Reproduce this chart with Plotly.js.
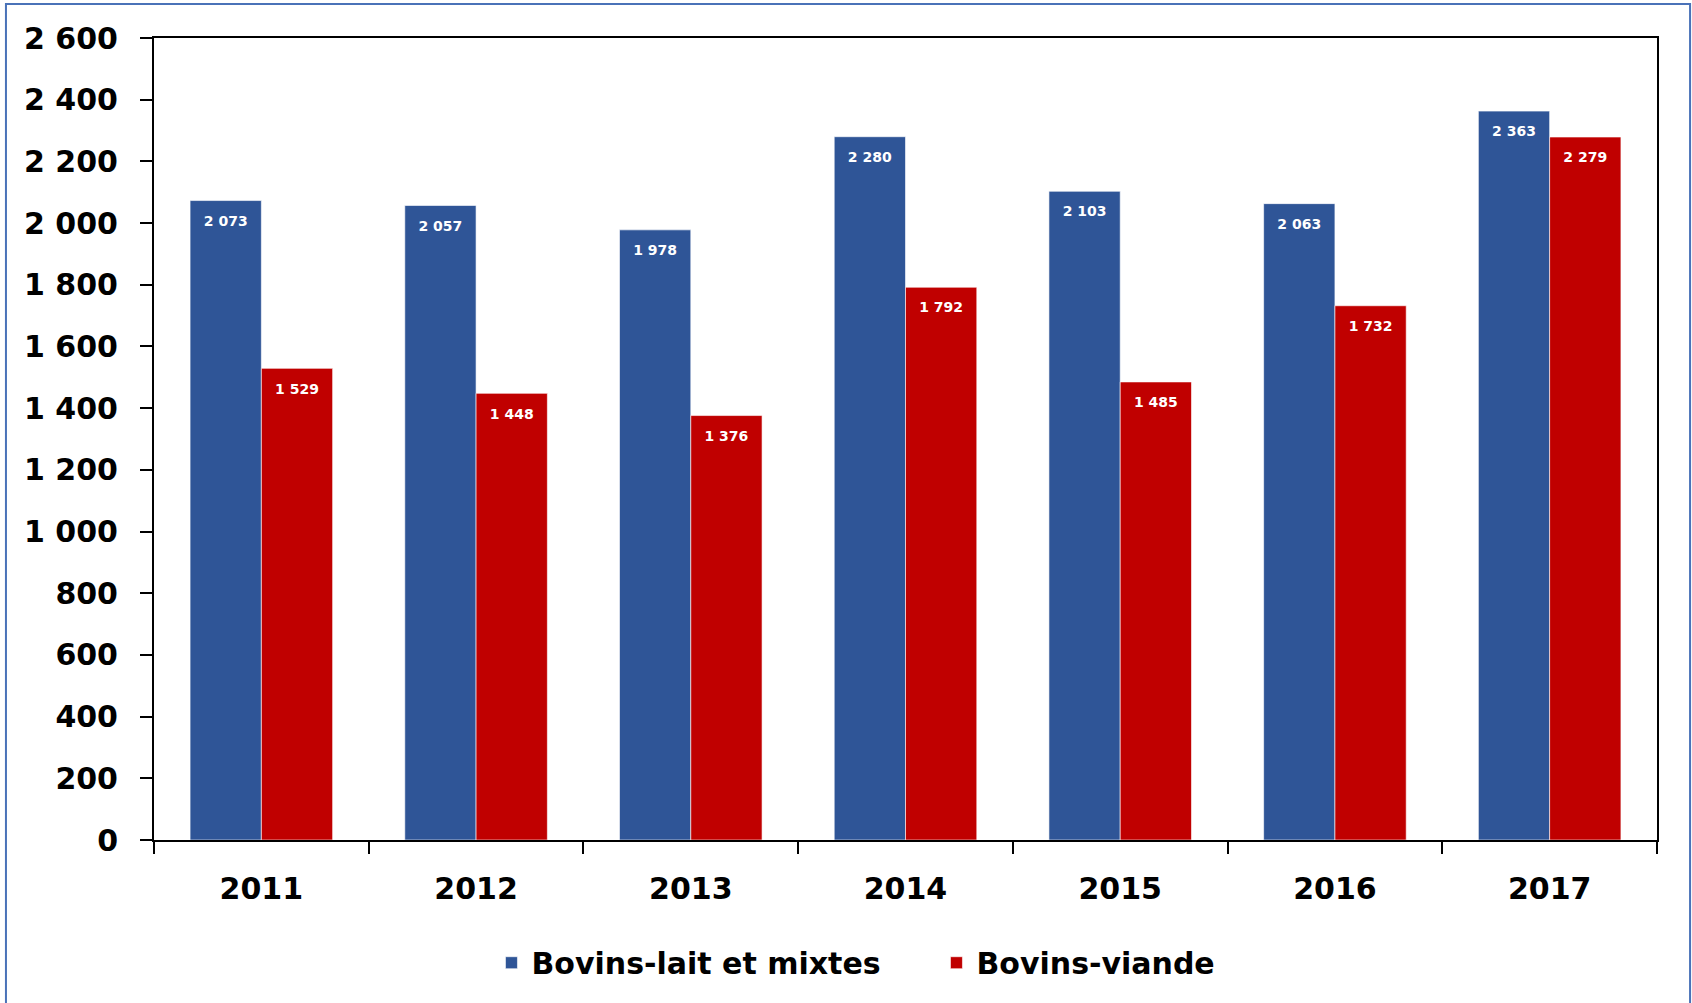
<!DOCTYPE html>
<html>
<head>
<meta charset="utf-8">
<script src="https://cdn.plot.ly/plotly-3.0.1.min.js"></script>
<style>
  html, body { margin: 0; padding: 0; background: #ffffff; }
  #chart { width: 1692px; height: 1003px; }
</style>
</head>
<body>
<div id="chart"></div>
<script>
const years = ["2011", "2012", "2013", "2014", "2015", "2016", "2017"];
const laitMixtes = [2073, 2057, 1978, 2280, 2103, 2063, 2363];
const viande = [1529, 1448, 1376, 1792, 1485, 1732, 2279];
const seriesNames = ["Bovins-lait et mixtes", "Bovins-viande"];
const yTicks = [0, 200, 400, 600, 800, 1000, 1200, 1400, 1600, 1800, 2000, 2200, 2400, 2600];

const FONT = "DejaVu Sans, Verdana, sans-serif";

function barTrace(name, values, color) {
  return {
    type: "bar",
    name: name,
    x: years,
    y: values,
    marker: { color: color, line: { color: "rgba(255,255,255,0.6)", width: 1 } },
    texttemplate: "<span style=\"font-size:4px\">\u00a0</span><br>%{y:,d}",
    textposition: "inside",
    insidetextanchor: "end",
    constraintext: "none",
    textangle: 0,
    textfont: { family: FONT, size: 14, color: "#ffffff", weight: "bold" },
    hoverinfo: "x+y+name",
    cliponaxis: false
  };
}

const data = [
  barTrace(seriesNames[0], laitMixtes, "#2F5597"),
  barTrace(seriesNames[1], viande, "#C00000")
];

const layout = {
  width: 1692,
  height: 1003,
  margin: { l: 154, r: 35, t: 38, b: 163, pad: 0 },
  paper_bgcolor: "#ffffff",
  plot_bgcolor: "#ffffff",
  separators: ", ",
  barmode: "group",
  bargap: 0.336,
  bargroupgap: 0,
  font: { family: FONT, color: "#000000" },
  showlegend: true,
  legend: {
    orientation: "h",
    x: 0.5206,
    xanchor: "center",
    y: -0.153,
    yanchor: "middle",
    font: { family: FONT, size: 30, color: "#000000", weight: "bold" },
    itemwidth: 30,
    entrywidth: 400,
    entrywidthmode: "pixels",
    bgcolor: "rgba(0,0,0,0)"
  },
  xaxis: {
    type: "category",
    showline: true,
    linecolor: "#000000",
    linewidth: 2,
    mirror: true,
    ticks: "outside",
    tickson: "boundaries",
    ticklen: 12,
    tickwidth: 2,
    tickcolor: "#000000",
    ticklabelstandoff: 21,
    tickfont: { family: FONT, size: 30, color: "#000000", weight: "bold" },
    showgrid: false,
    zeroline: false,
    fixedrange: true
  },
  yaxis: {
    range: [0, 2600],
    tickmode: "array",
    tickvals: yTicks,
    tickformat: ",d",
    showline: true,
    linecolor: "#000000",
    linewidth: 2,
    mirror: true,
    ticks: "outside",
    ticklen: 12,
    tickwidth: 2,
    tickcolor: "#000000",
    ticklabelstandoff: 16,
    tickfont: { family: FONT, size: 30, color: "#000000", weight: "bold" },
    showgrid: false,
    zeroline: false,
    fixedrange: true
  },
  shapes: [
    {
      type: "rect",
      xref: "paper", yref: "paper",
      x0: -0.0985, x1: 1.022,
      y0: -0.25, y1: 1.0424,
      line: { color: "#4A72B8", width: 2 },
      fillcolor: "rgba(0,0,0,0)",
      layer: "below"
    }
  ]
};

Plotly.newPlot("chart", data, layout, { displayModeBar: false, staticPlot: true });
</script>
</body>
</html>
